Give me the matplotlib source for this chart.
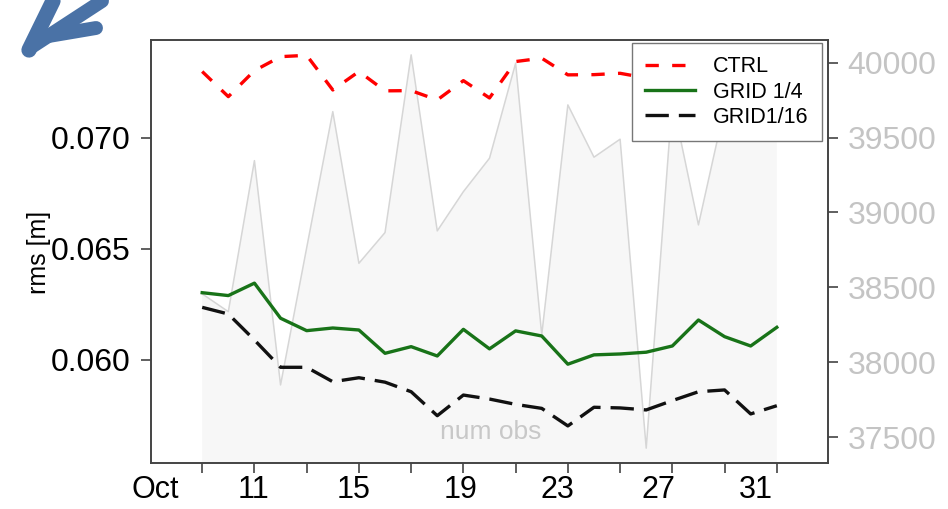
import matplotlib.pyplot as plt
from matplotlib.lines import Line2D

plt.rcParams['font.family'] = ['Liberation Sans', 'DejaVu Sans']

# Tage im Oktober
tage = list(range(9, 32))

ctrl = [0.07299, 0.07186, 0.07303, 0.07366, 0.07372, 0.07216, 0.07299, 0.07212,
        0.07213, 0.07171, 0.07258, 0.07180, 0.07344, 0.07359, 0.07284, 0.07285,
        0.07291, 0.07270, 0.07290, 0.07240, 0.07270, 0.07260, 0.07290]
grid_4 = [0.06303, 0.06290, 0.06346, 0.06188, 0.06132, 0.06144, 0.06135, 0.06030,
          0.06060, 0.06018, 0.06138, 0.06050, 0.06131, 0.06108, 0.05981, 0.06023,
          0.06027, 0.06035, 0.06063, 0.06180, 0.06105, 0.06063, 0.06147]
grid_16 = [0.06237, 0.06207, 0.06090, 0.05967, 0.05967, 0.05902, 0.05920, 0.05900,
           0.05857, 0.05749, 0.05842, 0.05824, 0.05800, 0.05782, 0.05703, 0.05787,
           0.05784, 0.05775, 0.05817, 0.05857, 0.05865, 0.05757, 0.05794]
num_obs = [38457, 38338, 39346, 37849, 38764, 39673, 38661, 38866, 40052, 38877,
           39139, 39362, 39996, 38183, 39718, 39369, 39489, 37427, 39750, 38917,
           39700, 39820, 39750]

tick_tage = list(range(9, 32, 2))
label_text = ['Oct', '11', '15', '19', '23', '27', '31']
label_pos = [7.2, 10.95, 14.78, 18.9, 22.62, 26.47, 30.2]
rechts_ticks = [37500, 38000, 38500, 39000, 39500, 40000]
links_ticks = [0.060, 0.065, 0.070]

fig = plt.figure(figsize=(9.48, 5.09), dpi=100)
ax = fig.add_axes([151 / 948, 1 - 463 / 509, 677 / 948, 423 / 509])
ax2 = ax.twinx()
ax.set_zorder(ax2.get_zorder() + 1)
ax.patch.set_visible(False)

# Anzahl Beobachtungen im Hintergrund
ax2.fill_between(tage, num_obs, 30000, color='#f7f7f7', lw=0)
ax2.plot(tage, num_obs, color='#d6d6d6', lw=1.1)
ax2.set_ylim(37328, 40151)
ax2.set_yticks(rechts_ticks)
ax2.tick_params(axis='y', labelsize=23, labelcolor='#c4c4c4', color='#444444',
                length=7, width=1.2, pad=7)
ax2.text(20.05, 37535, 'num obs', color='#c8c8c8', fontsize=19,
         ha='center', va='center')

ax.plot(tage, ctrl, color='#ff0000', lw=2.4, ls=(0, (4, 4)), label='CTRL')
ax.plot(tage, grid_4, color='#187318', lw=2.4, label='GRID 1/4')
ax.plot(tage, grid_16, color='#111111', lw=2.4, ls=(0, (7, 3)), label='GRID1/16')

ax.set_xlim(7.04, 32.96)
ax.set_ylim(0.05536, 0.07441)
ax.set_yticks(links_ticks)
ax.set_yticklabels(['0.060', '0.065', '0.070'])
ax.tick_params(axis='y', labelsize=23, color='#444444', length=7, width=1.2, pad=8)

ax.set_xticks(tick_tage)
ax.set_xticklabels([])
ax.tick_params(axis='x', which='major', color='#444444', length=7, width=1.2)
ax.set_xticks(label_pos, minor=True)
ax.set_xticklabels(label_text, minor=True)
ax.tick_params(axis='x', which='minor', length=0, labelsize=22, pad=9)

for a in (ax, ax2):
    for s in a.spines.values():
        s.set_color('#444444')
        s.set_linewidth(1.2)

fig.text(39 / 948, 1 - 252 / 509, 'rms [m]', rotation=90, fontsize=18,
         ha='center', va='center')

leg = ax.legend(loc='upper right', bbox_to_anchor=(0.991, 0.993), fontsize=15.5,
                fancybox=False, framealpha=1, edgecolor='#777777',
                handlelength=2.3, handletextpad=0.85, labelspacing=0.2,
                borderpad=0.62, borderaxespad=0)
leg.get_frame().set_linewidth(1.0)

# Pfeil oben links
pfeil = '#4a72a6'
for (x0, y0, x1, y1, w) in [(29, 50, 53, 1, 11), (33, 46, 102, 1, 10), (37, 38, 96, 28, 10)]:
    fig.add_artist(Line2D([x0 / 948, x1 / 948], [1 - y0 / 509, 1 - y1 / 509],
                          color=pfeil, lw=w, solid_capstyle='round'))

fig.savefig('out.png', dpi=100)
